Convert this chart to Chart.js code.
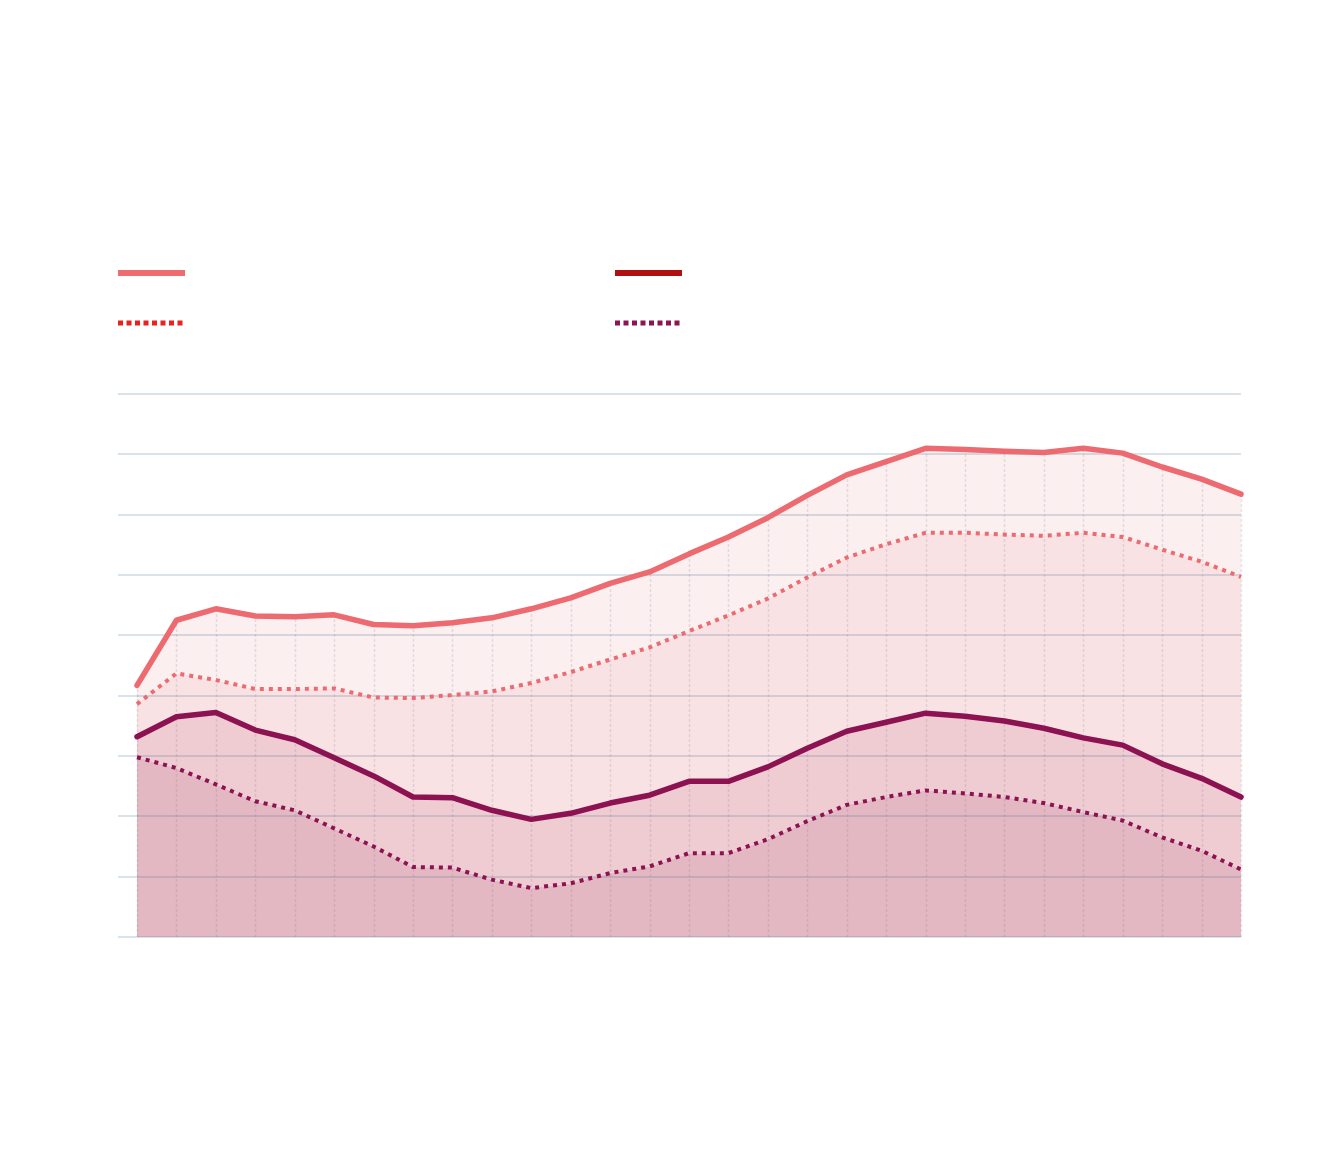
<!DOCTYPE html>
<html>
<head>
<meta charset="utf-8">
<script src="https://cdn.jsdelivr.net/npm/chart.js@4/dist/chart.umd.min.js"></script>
<style>
  html, body { margin: 0; padding: 0; background: #ffffff; }
  #wrap { width: 1320px; height: 1170px; }
</style>
</head>
<body>
<div id="wrap"><canvas id="c" width="1320" height="1170"></canvas></div>
<script>
// Categories (no visible tick labels in the reference)
const categories = ['1','2','3','4','5','6','7','8','9','10','11','12','13','14','15','16','17','18','19','20','21','22','23','24','25','26','27','28','29'];
const yTicks = [0,1,2,3,4,5,6,7,8,9];

// Series values (gridline units)
const seriesA = [4.17,5.25,5.44,5.32,5.31,5.34,5.18,5.16,5.21,5.29,5.44,5.62,5.86,6.05,6.35,6.63,6.95,7.32,7.66,7.88,8.10,8.08,8.05,8.03,8.10,8.02,7.79,7.59,7.34];
const seriesB = [3.86,4.37,4.26,4.11,4.11,4.12,3.97,3.96,4.01,4.07,4.21,4.39,4.60,4.80,5.07,5.33,5.61,5.96,6.29,6.51,6.70,6.70,6.67,6.65,6.70,6.63,6.42,6.22,5.97];
const seriesC = [3.32,3.65,3.72,3.43,3.27,2.97,2.67,2.32,2.31,2.10,1.95,2.05,2.22,2.35,2.58,2.58,2.82,3.13,3.41,3.56,3.71,3.66,3.58,3.46,3.30,3.18,2.87,2.63,2.32];
const seriesD = [2.98,2.80,2.53,2.25,2.10,1.80,1.50,1.16,1.15,0.95,0.81,0.89,1.06,1.17,1.39,1.39,1.62,1.92,2.19,2.32,2.43,2.38,2.32,2.22,2.07,1.93,1.65,1.43,1.12];

const PINK = '#ec6a70';
const DARK = '#8c1252';

const gridPlugin = {
  id: 'customGrid',
  beforeDatasetsDraw(chart) {
    const ctx = chart.ctx;
    const x = chart.scales.x, y = chart.scales.y;
    const area = chart.chartArea;
    ctx.save();
    // vertical dashed lines under the top series
    ctx.strokeStyle = 'rgba(100,105,130,0.16)';
    ctx.lineWidth = 1.5;
    ctx.setLineDash([3, 2]);
    categories.forEach((c, i) => {
      const px = Math.round(x.getPixelForValue(i)) + 0.5;
      ctx.beginPath();
      ctx.moveTo(px, y.getPixelForValue(0));
      ctx.lineTo(px, y.getPixelForValue(seriesA[i]));
      ctx.stroke();
    });
    ctx.setLineDash([]);
    // horizontal grid lines
    ctx.strokeStyle = 'rgba(70,110,150,0.2)';
    ctx.lineWidth = 2;
    yTicks.forEach(v => {
      const py = Math.round(y.getPixelForValue(v));
      ctx.beginPath();
      ctx.moveTo(area.left - 19, py);
      ctx.lineTo(area.right, py);
      ctx.stroke();
    });
    ctx.restore();
  },
  afterDraw(chart) {
    const ctx = chart.ctx;
    ctx.save();
    const items = [
      {x: 118, y: 273, color: '#ee6b70', dash: [], w: 67},
      {x: 615, y: 273, color: '#b0100f', dash: [], w: 67},
      {x: 118, y: 323, color: '#e8221f', dash: [5, 3.5], w: 65},
      {x: 615, y: 323, color: '#8c1452', dash: [5, 3.5], w: 65}
    ];
    items.forEach(it => {
      ctx.strokeStyle = it.color;
      ctx.lineWidth = it.dash.length ? 5 : 6;
      ctx.lineCap = 'butt';
      ctx.setLineDash(it.dash);
      ctx.beginPath();
      ctx.moveTo(it.x, it.y);
      ctx.lineTo(it.x + it.w, it.y);
      ctx.stroke();
    });
    ctx.restore();
  }
};

new Chart(document.getElementById('c'), {
  type: 'line',
  data: {
    labels: categories,
    datasets: [
      { data: seriesA, borderColor: PINK, borderWidth: 5.5, backgroundColor: '#fbeff0', fill: '+1', borderCapStyle: 'round', borderJoinStyle: 'round' },
      { data: seriesB, borderColor: PINK, borderWidth: 4, borderDash: [4, 5], backgroundColor: '#f9e2e3', fill: '+1', borderCapStyle: 'butt' },
      { data: seriesC, borderColor: DARK, borderWidth: 5.5, backgroundColor: '#efcbd2', fill: '+1', borderCapStyle: 'round', borderJoinStyle: 'round' },
      { data: seriesD, borderColor: DARK, borderWidth: 4, borderDash: [4, 5], backgroundColor: '#e4b8c2', fill: 'origin', borderCapStyle: 'butt' }
    ]
  },
  options: {
    responsive: false,
    animation: false,
    devicePixelRatio: 1,
    layout: { padding: { left: 137, right: 79, top: 394, bottom: 233 } },
    elements: { point: { radius: 0, hoverRadius: 0 }, line: { tension: 0 } },
    datasets: { line: { clip: false } },
    scales: {
      x: { display: false, offset: false },
      y: { display: false, min: 0, max: 9 }
    },
    plugins: {
      legend: { display: false },
      tooltip: { enabled: false },
      filler: { drawTime: 'beforeDatasetsDraw' }
    }
  },
  plugins: [gridPlugin]
});
</script>
</body>
</html>
